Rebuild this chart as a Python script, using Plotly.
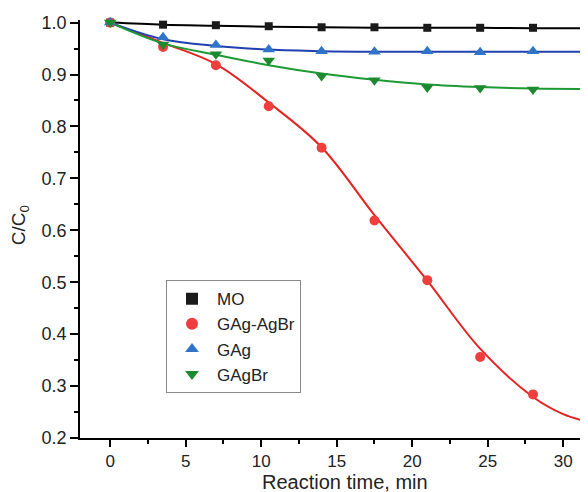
import plotly.graph_objects as go

time_min = [0, 3.5, 7, 10.5, 14, 17.5, 21, 24.5, 28, 31.5]
mo = [1.0, 0.996, 0.995, 0.993, 0.991, 0.991, 0.990, 0.990, 0.990, 0.990]
gag_agbr = [1.0, 0.953, 0.918, 0.839, 0.759, 0.619, 0.504, 0.356, 0.284, 0.226]
gag = [1.0, 0.972, 0.957, 0.948, 0.945, 0.944, 0.945, 0.943, 0.945, 0.945]
gagbr = [1.0, 0.958, 0.939, 0.927, 0.897, 0.889, 0.875, 0.874, 0.871, 0.876]

# fitted curves
fit_x = [0, 3.5, 7, 10.5, 14, 17.5, 21, 24.5, 28, 32.2]
fit_black = [1.0, 0.996, 0.994, 0.992, 0.991, 0.990, 0.990, 0.990, 0.989, 0.989]
fit_blue = [1.0, 0.968, 0.955, 0.948, 0.945, 0.944, 0.944, 0.944, 0.944, 0.944]
fit_green = [1.0, 0.960, 0.938, 0.918, 0.902, 0.890, 0.881, 0.876, 0.873, 0.872]
fit_red_x = [0, 3.5, 7, 10.5, 14, 17.5, 21, 24.5, 28, 30, 31.66, 32.2]
fit_red = [1.0, 0.961, 0.920, 0.846, 0.760, 0.629, 0.503, 0.372, 0.279, 0.246, 0.231, 0.228]

series = [
    ("MO", mo, fit_x, fit_black, "square", "#1a1a1a", "#000000", 8),
    ("GAg-AgBr", gag_agbr, fit_red_x, fit_red, "circle", "#ee3e3e", "#e52222", 10),
    ("GAg", gag, fit_x, fit_blue, "triangle-up", "#2f74c9", "#2040b0", 11),
    ("GAgBr", gagbr, fit_x, fit_green, "triangle-down", "#1e8a30", "#1e9a35", 11),
]

fig = go.Figure()
for name, ys, fx, fy, sym, mcol, lcol, size in series:
    fig.add_trace(go.Scatter(x=fx, y=fy, mode="lines", line=dict(color=lcol, width=2, shape="spline", smoothing=1.0),
                             showlegend=False, hoverinfo="skip"))
for name, ys, fx, fy, sym, mcol, lcol, size in series:
    fig.add_trace(go.Scatter(x=time_min, y=ys, mode="markers", name=name,
                             marker=dict(symbol=sym, color=mcol, size=size, line=dict(width=0)),
                             cliponaxis=False))

FONT = "Liberation Sans, Arial, sans-serif"
PW, PH = 508, 417.7   # plot area size in px
fig.update_layout(
    width=580, height=484,
    margin=dict(l=72, r=0, t=12, b=54.3),
    plot_bgcolor="white", paper_bgcolor="white",
    font=dict(family=FONT, size=16, color="#222"),
    showlegend=True,
    legend=dict(x=(166 - 80) / PW, y=(437.7 - 280) / PH, xanchor="left", yanchor="top",
                bordercolor="#888", borderwidth=1, bgcolor="white",
                font=dict(family=FONT, size=17, color="#222"),
                itemsizing="constant", tracegroupgap=0, itemwidth=40),
    xaxis=dict(range=[-2, -2 + PW / 15.1], tickmode="array", tickvals=[0, 5, 10, 15, 20, 25, 30],
               automargin=False,
               ticks="outside", ticklen=7, tickwidth=1.5, tickcolor="black",
               showline=True, linecolor="black", linewidth=1.5, showgrid=False, zeroline=False,
               minor=dict(tickvals=[2.5, 7.5, 12.5, 17.5, 22.5, 27.5], ticks="outside", ticklen=4, tickcolor="black", tickwidth=1.5),
               tickfont=dict(size=17)),
    yaxis=dict(range=[0.2, 1.005], tickmode="array", tickvals=[0.2, 0.3, 0.4, 0.5, 0.6, 0.7, 0.8, 0.9, 1.0],
               ticktext=["0.2", "0.3", "0.4", "0.5", "0.6", "0.7", "0.8", "0.9", "1.0"],
               automargin=False,
               ticks="outside", ticklen=8, tickwidth=1.5, tickcolor="black",
               showline=True, linecolor="black", linewidth=1.5, showgrid=False, zeroline=False,
               minor=dict(tickvals=[0.25, 0.35, 0.45, 0.55, 0.65, 0.75, 0.85, 0.95], ticks="outside", ticklen=4, tickcolor="black", tickwidth=1.5),
               tickfont=dict(size=18)),
    annotations=[
        dict(text="Reaction time, min", xref="paper", yref="paper",
             x=(345 - 80) / PW, y=-(482 - 437.7) / PH, xanchor="center", yanchor="middle",
             showarrow=False, font=dict(family=FONT, size=20, color="#222")),
        dict(text="C/C<sub>0</sub>", xref="paper", yref="paper",
             x=(20 - 80) / PW, y=(437.7 - 225) / PH, xanchor="center", yanchor="middle",
             textangle=-90, showarrow=False, font=dict(family=FONT, size=19, color="#222")),
    ],
)

fig.write_html("out.html")
